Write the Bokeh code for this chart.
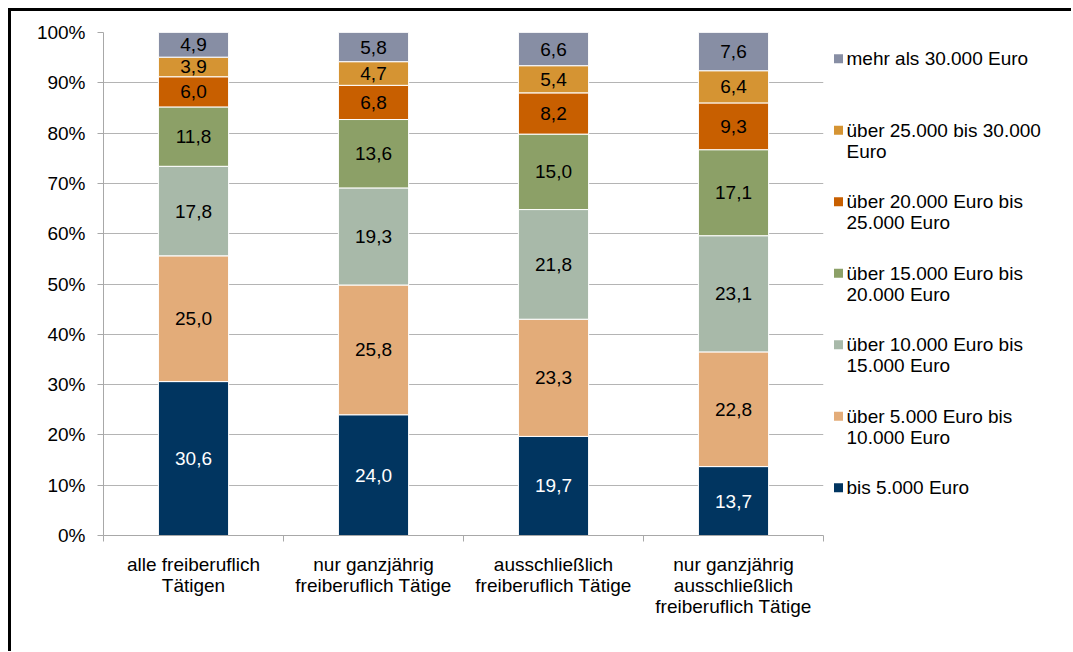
import numpy as np
from bokeh.plotting import figure
from bokeh.models import ColumnDataSource, Range1d, FixedTicker, PrintfTickFormatter
from bokeh.layouts import row
from bokeh.embed import file_html
from bokeh.resources import INLINE
from bokeh.core.properties import value

# ---------------- data ----------------
categories = [
    "alle freiberuflich\nTätigen",
    "nur ganzjährig\nfreiberuflich Tätige",
    "ausschließlich\nfreiberuflich Tätige",
    "nur ganzjährig\nausschließlich\nfreiberuflich Tätige",
]
series_names = [
    "bis 5.000 Euro",
    "über 5.000 Euro bis\n10.000 Euro",
    "über 10.000 Euro bis\n15.000 Euro",
    "über 15.000 Euro bis\n20.000 Euro",
    "über 20.000 Euro bis\n25.000 Euro",
    "über 25.000 bis 30.000\nEuro",
    "mehr als 30.000 Euro",
]
bis_5000 = [30.6, 24.0, 19.7, 13.7]
ueber_5000 = [25.0, 25.8, 23.3, 22.8]
ueber_10000 = [17.8, 19.3, 21.8, 23.1]
ueber_15000 = [11.8, 13.6, 15.0, 17.1]
ueber_20000 = [6.0, 6.8, 8.2, 9.3]
ueber_25000 = [3.9, 4.7, 5.4, 6.4]
mehr_30000 = [4.9, 5.8, 6.6, 7.6]
y_ticks = [0, 10, 20, 30, 40, 50, 60, 70, 80, 90, 100]

series = [bis_5000, ueber_5000, ueber_10000, ueber_15000, ueber_20000, ueber_25000, mehr_30000]
colors = ["#013560", "#E3AC79", "#A8B9A9", "#8CA067", "#C85F00", "#D59433", "#878EA4"]
label_colors = ["white", "black", "black", "black", "black", "black", "black"]

FONT = "Liberation Sans"
FS = "19px"

# ---------------- main chart ----------------
n = len(categories)
xs = [i + 0.5 for i in range(n)]
keys = [f"s{i}" for i in range(len(series))]
src = ColumnDataSource(dict(x=xs, **{k: v for k, v in zip(keys, series)}))

p = figure(width=820, height=640, output_backend="svg", toolbar_location=None,
           x_range=Range1d(0, n), y_range=Range1d(0, 100),
           min_border_left=92, min_border_right=8, min_border_top=21, min_border_bottom=116)
p.outline_line_color = None
p.background_fill_color = "white"
p.border_fill_color = "white"

p.vbar_stack(keys, x="x", width=0.39, source=src, fill_color=colors,
             line_color="white", line_width=1)

# data labels
lx, ly, lt, lc = [], [], [], []
cum = np.zeros(n)
for vals, col in zip(series, label_colors):
    v = np.array(vals)
    mids = cum + v / 2
    for i in range(n):
        lx.append(xs[i]); ly.append(mids[i])
        lt.append(f"{vals[i]:.1f}".replace(".", ","))
        lc.append(col)
    cum = cum + v
p.text(x="x", y="y", text="t", text_color="c",
       source=ColumnDataSource(dict(x=lx, y=ly, t=lt, c=lc)),
       text_align="center", text_baseline="middle",
       text_font=value(FONT), text_font_size=FS)

# grid
p.xgrid.grid_line_color = None
p.ygrid.ticker = FixedTicker(ticks=y_ticks)
p.ygrid.grid_line_color = "#b4b4b4"
p.ygrid.grid_line_width = 1

# y axis
p.yaxis.ticker = FixedTicker(ticks=y_ticks)
p.yaxis.formatter = PrintfTickFormatter(format="%d%%")
p.yaxis.axis_line_color = "#a8a8a8"
p.yaxis.major_tick_line_color = "#a8a8a8"
p.yaxis.major_tick_out = 6
p.yaxis.major_tick_in = 0
p.yaxis.minor_tick_line_color = None
p.yaxis.major_label_standoff = 12
p.yaxis.major_label_text_font = FONT
p.yaxis.major_label_text_font_size = FS
p.yaxis.major_label_text_color = "black"

# x axis
p.xaxis.ticker = FixedTicker(ticks=xs, minor_ticks=list(range(n + 1)))
p.xaxis.major_label_overrides = {x: c for x, c in zip(xs, categories)}
p.xaxis.axis_line_color = "#a8a8a8"
p.xaxis.major_tick_line_color = None
p.xaxis.major_tick_out = 0
p.xaxis.major_tick_in = 0
p.xaxis.minor_tick_line_color = "#a8a8a8"
p.xaxis.minor_tick_out = 6
p.xaxis.minor_tick_in = 0
p.xaxis.major_label_standoff = 12
p.xaxis.major_label_text_font = FONT
p.xaxis.major_label_text_font_size = FS
p.xaxis.major_label_text_color = "black"
p.xaxis.major_label_text_line_height = 1.0

# ---------------- legend (separate panel, frame aligned with main frame) ----------------
# legend panel y coordinates are page pixels (frame top = 32, frame bottom = 535)
lg = figure(width=240, height=640, output_backend="svg", toolbar_location=None,
            x_range=Range1d(0, 240), y_range=Range1d(535, 32),
            min_border_left=0, min_border_right=0, min_border_top=21, min_border_bottom=116)
lg.outline_line_color = None
lg.axis.visible = False
lg.grid.visible = False
lg.background_fill_color = "white"
lg.border_fill_color = "white"

order = list(range(len(series_names)))[::-1]
leg_y = [58.3 + k * 71.5 for k in range(len(order))]
lg.scatter(x=[7] * len(order), y=leg_y, marker="square", size=9,
           fill_color=[colors[i] for i in order], line_color=None)
lg.text(x=[15] * len(order), y=[y - 10.5 for y in leg_y],
        text=[series_names[i] for i in order],
        text_align="left", text_baseline="top", text_color="black",
        text_font=value(FONT), text_font_size=FS, text_line_height=1.0)

layout = row(p, lg, styles={"border-top": "3px solid black", "border-left": "3px solid black",
                            "margin-left": "8px", "margin-top": "8px"})

open("out.html", "w").write(file_html(layout, INLINE))
